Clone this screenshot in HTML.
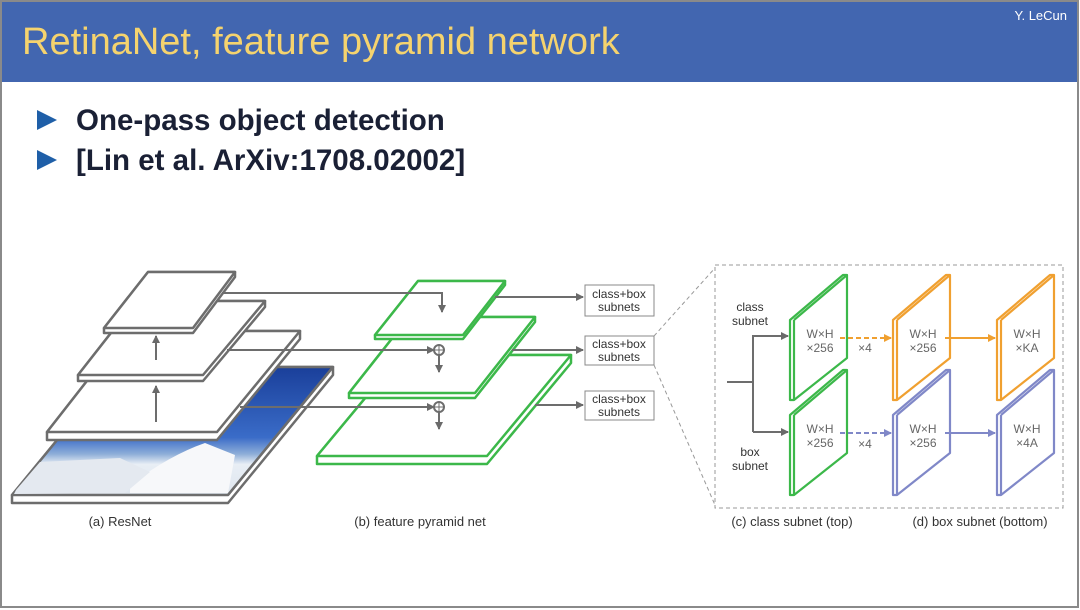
<!DOCTYPE html>
<html><head><meta charset="utf-8"><style>
html,body{margin:0;padding:0;background:#fff}
body{width:1080px;height:610px;position:relative;overflow:hidden;font-family:"Liberation Sans",sans-serif}
</style></head><body>
<svg width="1080" height="610" viewBox="0 0 1080 610" xmlns="http://www.w3.org/2000/svg" style="position:absolute;left:0;top:0">
<defs>
<linearGradient id="sky" x1="0" y1="0" x2="0" y2="1">
<stop offset="0" stop-color="#1a3f9a"/><stop offset="0.55" stop-color="#3a6cc8"/><stop offset="0.68" stop-color="#8eaed8"/><stop offset="0.76" stop-color="#e8eef5"/><stop offset="1" stop-color="#dfe6ee"/>
</linearGradient>
<marker id="ag" markerWidth="8" markerHeight="8" refX="7" refY="4" orient="auto" markerUnits="userSpaceOnUse"><path d="M0,0 L8,4 L0,8 z" fill="#6a6a6a"/></marker>
<marker id="ao" markerWidth="8" markerHeight="8" refX="7" refY="4" orient="auto" markerUnits="userSpaceOnUse"><path d="M0,0 L8,4 L0,8 z" fill="#f0a030"/></marker>
<marker id="ab" markerWidth="8" markerHeight="8" refX="7" refY="4" orient="auto" markerUnits="userSpaceOnUse"><path d="M0,0 L8,4 L0,8 z" fill="#8088c8"/></marker>
</defs>
<rect x="1" y="1" width="1077" height="606" fill="#fff" stroke="#8a8a8a" stroke-width="2"/>
<rect x="2" y="2" width="1075" height="80" fill="#4266b0"/>
<text x="22" y="54" font-size="38" fill="#f5d36e">RetinaNet, feature pyramid network</text>
<text x="1067" y="20" font-size="13" fill="#ffffff" text-anchor="end">Y. LeCun</text>
<path d="M37,110 L57,120 L37,130 z" fill="#1f5fa8"/>
<path d="M37,150 L57,160 L37,170 z" fill="#1f5fa8"/>
<text x="76" y="130" font-size="29.5" font-weight="bold" fill="#1a2035">One-pass object detection</text>
<text x="76" y="170" font-size="29.5" font-weight="bold" fill="#1a2035">[Lin et al. ArXiv:1708.02002]</text>

<g stroke="#6d6d6d" stroke-width="2.5" stroke-linejoin="round">
<path d="M12,495 L117,367 L333,367 L333,375 L228,503 L12,503 z" fill="#fff"/>
<path d="M12,495 L117,367 L333,367 L228,495 z" fill="url(#sky)"/>
<path d="M228,495 L333,367" fill="none"/>
<path d="M47,432 L126,331 L300,331 L300,339 L217,440 L47,440 z" fill="#fff"/>
<path d="M47,432 L126,331 L300,331 L217,432 z M217,432 L300,331" fill="#fff"/>
<path d="M78,375 L136,301 L265,301 L265,307 L203,381 L78,381 z" fill="#fff"/>
<path d="M78,375 L136,301 L265,301 L203,375 z M203,375 L265,301" fill="#fff"/>
<path d="M104,328 L148,272 L235,272 L235,277 L193,333 L104,333 z" fill="#fff"/>
<path d="M104,328 L148,272 L235,272 L193,328 z M193,328 L235,272" fill="#fff"/>
</g>
<path d="M130,485 Q170,455 205,443 L235,455 L228,493 L130,493 z" fill="#f7f8fa"/>
<path d="M16,490 L40,462 L120,458 L150,472 L125,493 L14,494 z" fill="#e4e9f0"/>
<g stroke="#6d6d6d" stroke-width="2" fill="none">
<line x1="156" y1="422" x2="156" y2="386" marker-end="url(#ag)"/>
<line x1="156" y1="360" x2="156" y2="336" marker-end="url(#ag)"/>
</g>

<g stroke="#3cb84a" stroke-width="2.5" stroke-linejoin="round" fill="#fff">
<path d="M317,456 L401,355 L571,355 L571,363 L487,464 L317,464 z"/>
<path d="M317,456 L401,355 L571,355 L487,456 z M487,456 L571,355"/>
<path d="M349,393 L409,317 L535,317 L535,322 L475,398 L349,398 z"/>
<path d="M349,393 L409,317 L535,317 L475,393 z M475,393 L535,317"/>
<path d="M375,335 L418,281 L505,281 L505,285 L463,339 L375,339 z"/>
<path d="M375,335 L418,281 L505,281 L463,335 z M463,335 L505,281"/>
</g>
<g stroke="#6d6d6d" stroke-width="2" fill="none">
<polyline points="222,293 442,293 442,312" marker-end="url(#ag)"/>
<line x1="227" y1="350" x2="434" y2="350" marker-end="url(#ag)"/>
<line x1="240" y1="407" x2="434" y2="407" marker-end="url(#ag)"/>
<circle cx="439" cy="350" r="5" fill="#fff"/>
<path d="M435,350 h8 M439,346 v8" stroke-width="1"/>
<circle cx="439" cy="407" r="5" fill="#fff"/>
<path d="M435,407 h8 M439,403 v8" stroke-width="1"/>
<line x1="439" y1="355" x2="439" y2="372" marker-end="url(#ag)"/>
<line x1="439" y1="412" x2="439" y2="429" marker-end="url(#ag)"/>
<line x1="495" y1="297" x2="583" y2="297" marker-end="url(#ag)"/>
<line x1="512" y1="350" x2="583" y2="350" marker-end="url(#ag)"/>
<line x1="535" y1="405" x2="583" y2="405" marker-end="url(#ag)"/>
</g>
<g fill="#fff" stroke="#888" stroke-width="1">
<rect x="585" y="285" width="69" height="31"/>
<rect x="585" y="336" width="69" height="29"/>
<rect x="585" y="391" width="69" height="29"/>
</g>
<g font-size="12" fill="#333" text-anchor="middle">
<text x="619" y="298">class+box</text><text x="619" y="311">subnets</text>
<text x="619" y="348">class+box</text><text x="619" y="361">subnets</text>
<text x="619" y="403">class+box</text><text x="619" y="416">subnets</text>
</g>
<g stroke="#999" stroke-width="1" fill="none" stroke-dasharray="4,3">
<rect x="715" y="265" width="348" height="243"/>
<line x1="654" y1="336" x2="715" y2="268"/>
<line x1="654" y1="365" x2="715" y2="505"/>
</g>
<g stroke-width="2.2" fill="#fff" stroke-linejoin="round">
<g stroke="#3cb84a">
<path d="M790,320 L843,275 L847,275 L847,358 L794,400 L790,400 z"/><path d="M794,320 L847,275 M794,320 L794,400"/>
<path d="M790,415 L843,370 L847,370 L847,453 L794,495 L790,495 z"/><path d="M794,415 L847,370 M794,415 L794,495"/>
</g>
<g stroke="#f0a030">
<path d="M893,320 L946,275 L950,275 L950,358 L897,400 L893,400 z"/><path d="M897,320 L950,275 M897,320 L897,400"/>
<path d="M997,320 L1050,275 L1054,275 L1054,358 L1001,400 L997,400 z"/><path d="M1001,320 L1054,275 M1001,320 L1001,400"/>
</g>
<g stroke="#8088c8">
<path d="M893,415 L946,370 L950,370 L950,453 L897,495 L893,495 z"/><path d="M897,415 L950,370 M897,415 L897,495"/>
<path d="M997,415 L1050,370 L1054,370 L1054,453 L1001,495 L997,495 z"/><path d="M1001,415 L1054,370 M1001,415 L1001,495"/>
</g>
</g>
<g font-size="12" fill="#666" text-anchor="middle">
<text x="820" y="338">W×H</text><text x="820" y="352">×256</text>
<text x="820" y="433">W×H</text><text x="820" y="447">×256</text>
<text x="923" y="338">W×H</text><text x="923" y="352">×256</text>
<text x="923" y="433">W×H</text><text x="923" y="447">×256</text>
<text x="1027" y="338">W×H</text><text x="1027" y="352">×KA</text>
<text x="1027" y="433">W×H</text><text x="1027" y="447">×4A</text>
<text x="865" y="352">×4</text><text x="865" y="448">×4</text>
</g>
<g font-size="12" fill="#333" text-anchor="middle">
<text x="750" y="311">class</text><text x="750" y="325">subnet</text>
<text x="750" y="456">box</text><text x="750" y="470">subnet</text>
</g>
<g stroke="#6d6d6d" stroke-width="2" fill="none">
<polyline points="727,382 753,382"/>
<polyline points="753,432 753,336 788,336" marker-end="url(#ag)"/>
<line x1="753" y1="432" x2="788" y2="432" marker-end="url(#ag)"/>
</g>
<g stroke-width="2" fill="none">
<line x1="840" y1="338" x2="891" y2="338" stroke="#f0a030" stroke-dasharray="5,3" marker-end="url(#ao)"/>
<line x1="945" y1="338" x2="995" y2="338" stroke="#f0a030" marker-end="url(#ao)"/>
<line x1="840" y1="433" x2="891" y2="433" stroke="#8088c8" stroke-dasharray="5,3" marker-end="url(#ab)"/>
<line x1="945" y1="433" x2="995" y2="433" stroke="#8088c8" marker-end="url(#ab)"/>
</g>
<g font-size="13" fill="#333" text-anchor="middle">
<text x="120" y="526">(a) ResNet</text>
<text x="420" y="526">(b) feature pyramid net</text>
<text x="792" y="526">(c) class subnet (top)</text>
<text x="980" y="526">(d) box subnet (bottom)</text>
</g>
</svg>
</body></html>
